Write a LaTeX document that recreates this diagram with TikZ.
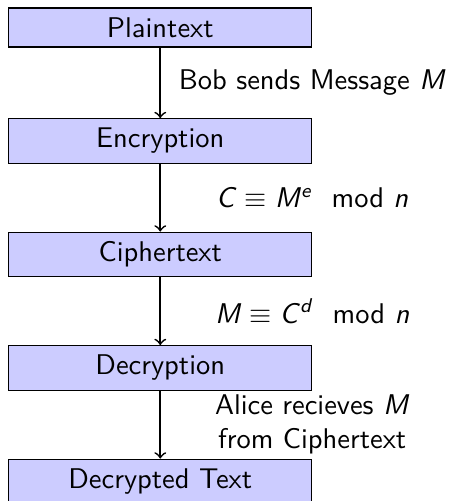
\documentclass[tikz,border=0pt]{standalone}
\usepackage{amsmath}
\usepackage{amssymb}
\usepackage{tikz}
\usetikzlibrary{positioning}

% sans slanted letters for the formulas
\newcommand{\sv}[1]{\textsl{#1}}

\begin{document}
\begin{tikzpicture}[node distance=1.4cm, on grid,
squarednode/.style={rectangle, draw=black, fill=blue!20, text width=3.5cm, align=center, font=\sffamily},
labelnode/.style={align=center, font=\sffamily},
]
\useasboundingbox (-1.977,0.339) rectangle (3.563,-5.841);
%Nodes
\node[squarednode]      (plain)                                  {Plaintext};
\node[squarednode]      (enc)                [below=of plain]    {Encryption};
\node[squarednode]      (cipher)             [below=of enc]      {Ciphertext};
\node[squarednode]      (dec)                [below=of cipher]   {Decryption};
\node[squarednode]      (dtext)              [below=of dec]      {Decrypted Text};

%Labels
\path (plain.south east) -- (enc.north east) node[labelnode, midway] (send) {Bob sends Message \sv{M}};
\path (enc.south east) -- (cipher.north east) node[labelnode, midway] (encrule) {\sv{C}\hspace{0.28em}$\equiv$\hspace{0.28em}\sv{M}\textsuperscript{\sv{e}}\hspace{0.67em}mod\hspace{0.33em}\sv{n}};
\path (cipher.south east) -- (dec.north east) node[labelnode, midway] (decrule) {\sv{M}\hspace{0.28em}$\equiv$\hspace{0.28em}\sv{C}\textsuperscript{\sv{d}}\hspace{0.67em}mod\hspace{0.33em}\sv{n}};
\path (dec.south east) -- (dtext.north east) node[labelnode, midway] (recv) {Alice recieves \sv{M}\\ from Ciphertext};

%Lines
\draw[->, semithick] (plain.south) -- (enc.north);
\draw[->, semithick] (enc.south) -- (cipher.north);
\draw[->, semithick] (cipher.south) -- (dec.north);
\draw[->, semithick] (dec.south) -- (dtext.north);
\end{tikzpicture}
\end{document}
